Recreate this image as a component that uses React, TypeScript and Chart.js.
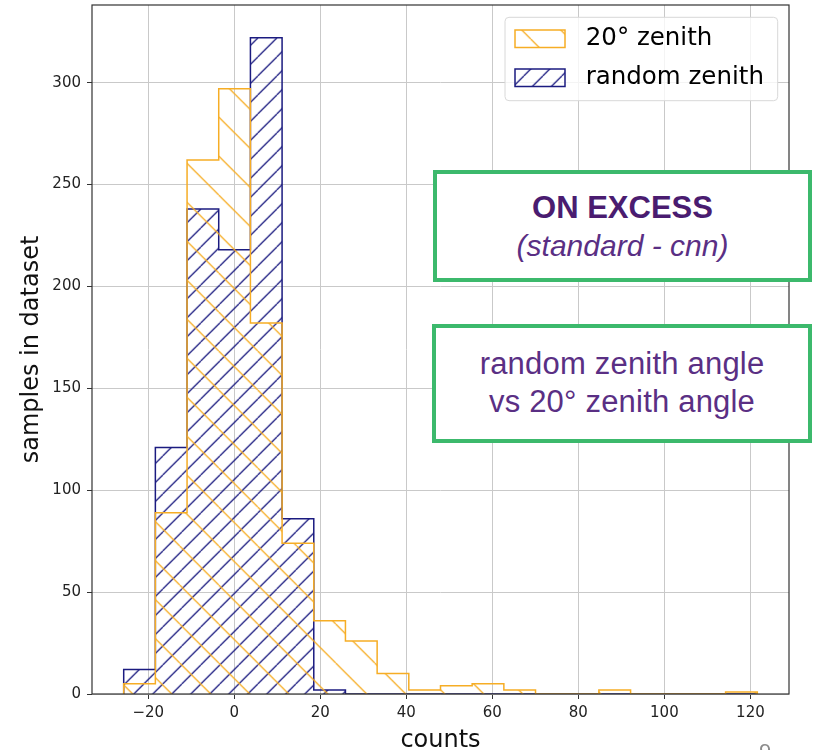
import React, { useEffect, useRef } from 'react';
import { Chart, registerables } from 'chart.js';

Chart.register(...registerables);

// ---- data ----
const BIN_EDGES = [
  -25.7, -18.34, -10.97, -3.61, 3.76, 11.12, 18.49, 25.85, 33.22, 40.58, 47.95,
  55.31, 62.68, 70.04, 77.41, 84.77, 92.14, 99.5, 106.87, 114.23, 121.6,
];
const ZENITH_20_COUNTS = [5, 89, 262, 297, 182, 74, 36, 26, 10, 2, 4, 5, 2, 0, 0, 2, 0, 0, 0, 1];
const RANDOM_ZENITH_COUNTS = [12, 121, 238, 218, 322, 86, 2, 0, 0, 0, 0, 0, 0, 0, 0, 0, 0, 0, 0, 0];
const SERIES_LABELS = ['20° zenith', 'random zenith'];
const X_TICKS = [-20, 0, 20, 40, 60, 80, 100, 120];
const Y_TICKS = [0, 50, 100, 150, 200, 250, 300];
const X_RANGE = [-33.07, 128.97];
const Y_RANGE = [0, 338.1];
const X_TITLE = 'counts';
const Y_TITLE = 'samples in dataset';

const ORANGE = '#f6ad25';
const NAVY = '#1b1b80';

function stepOutline(edges: number[], counts: number[]) {
  const pts: { x: number; y: number }[] = [{ x: edges[0], y: 0 }];
  counts.forEach((c, i) => pts.push({ x: edges[i], y: c }));
  pts.push({ x: edges[edges.length - 1], y: 0 });
  return pts;
}

function makeHatch(color: string, size: number, dir: 'back' | 'fwd', dx: number) {
  const c = document.createElement('canvas');
  c.width = size;
  c.height = size;
  const g = c.getContext('2d')!;
  g.strokeStyle = color;
  g.lineWidth = 1.3;
  g.beginPath();
  for (const x0 of [-size, 0, size]) {
    if (dir === 'back') {
      g.moveTo(x0, 0);
      g.lineTo(x0 + size, size);
    } else {
      g.moveTo(x0, size);
      g.lineTo(x0 + size, 0);
    }
  }
  g.stroke();
  const p = g.createPattern(c, 'repeat')!;
  try {
    p.setTransform(new DOMMatrix([1, 0, 0, 1, dx, 0]));
  } catch (e) {
    /* ignore */
  }
  return p;
}

const fmtTick = (v: number) => (v < 0 ? '\u2212' + Math.abs(v) : String(v));

const framePlugin = {
  id: 'axesFrame',
  afterDatasetsDraw(chart: any) {
    const { ctx, chartArea: a } = chart;
    ctx.save();
    ctx.strokeStyle = '#333';
    ctx.lineWidth = 1.2;
    ctx.strokeRect(a.left, a.top, a.right - a.left, a.bottom - a.top);
    ctx.restore();
  },
};

const legendPlugin = {
  id: 'boxedLegend',
  afterDraw(chart: any) {
    const { ctx, chartArea } = chart;
    const w = 272.7;
    const h = 83.4;
    const x = chartArea.right - 11.3 - w;
    const y = chartArea.top + 12.3;
    const r = 4;
    ctx.save();
    ctx.beginPath();
    ctx.moveTo(x + r, y);
    ctx.lineTo(x + w - r, y);
    ctx.quadraticCurveTo(x + w, y, x + w, y + r);
    ctx.lineTo(x + w, y + h - r);
    ctx.quadraticCurveTo(x + w, y + h, x + w - r, y + h);
    ctx.lineTo(x + r, y + h);
    ctx.quadraticCurveTo(x, y + h, x, y + h - r);
    ctx.lineTo(x, y + r);
    ctx.quadraticCurveTo(x, y, x + r, y);
    ctx.closePath();
    ctx.fillStyle = 'rgba(255,255,255,0.8)';
    ctx.fill();
    ctx.strokeStyle = '#d8d8d8';
    ctx.lineWidth = 1;
    ctx.stroke();
    chart.data.datasets.forEach((ds: any, i: number) => {
      const sx = x + 10;
      const sy = y + 12.7 + i * 39;
      ctx.fillStyle = ds.backgroundColor;
      ctx.fillRect(sx, sy, 50, 17.5);
      ctx.strokeStyle = ds.borderColor;
      ctx.lineWidth = 1.5;
      ctx.strokeRect(sx, sy, 50, 17.5);
      ctx.fillStyle = '#000';
      ctx.font = '24.5px "DejaVu Sans"';
      ctx.textBaseline = 'middle';
      ctx.textAlign = 'left';
      ctx.fillText(ds.label, x + 80.7, sy + 9);
    });
    ctx.restore();
  },
};

export default function App() {
  const ref = useRef<HTMLCanvasElement | null>(null);

  useEffect(() => {
    document.body.style.margin = '0';
    const canvas = ref.current!;
    const orangeHatch = makeHatch(ORANGE, 39, 'back', 23.7);
    const navyHatch = makeHatch(NAVY, 19, 'fwd', 10.7);
    const tickFont = { family: 'DejaVu Sans', size: 15 };
    const chart = new Chart(canvas, {
      type: 'line',
      data: {
        datasets: [
          {
            label: SERIES_LABELS[0],
            data: stepOutline(BIN_EDGES, ZENITH_20_COUNTS),
            borderColor: ORANGE,
            backgroundColor: orangeHatch,
            borderWidth: 1.5,
            stepped: true,
            fill: 'origin',
            pointRadius: 0,
          },
          {
            label: SERIES_LABELS[1],
            data: stepOutline(BIN_EDGES, RANDOM_ZENITH_COUNTS),
            borderColor: NAVY,
            backgroundColor: navyHatch,
            borderWidth: 1.5,
            stepped: true,
            fill: 'origin',
            pointRadius: 0,
          },
        ],
      },
      options: {
        animation: false,
        responsive: false,
        maintainAspectRatio: false,
        layout: { padding: { left: 0, right: 24, top: 5, bottom: 0 } },
        plugins: {
          legend: { display: false },
          tooltip: { enabled: false },
        },
        scales: {
          x: {
            type: 'linear',
            min: X_RANGE[0],
            max: X_RANGE[1],
            afterBuildTicks: (s: any) => {
              s.ticks = X_TICKS.map((v) => ({ value: v }));
            },
            afterFit: (s: any) => {
              s.height = 56;
              s.paddingLeft = 0;
              s.paddingRight = 0;
            },
            grid: { color: '#c9c9c9', lineWidth: 1, tickColor: '#333', tickLength: 5, tickWidth: 1 },
            border: { display: false },
            ticks: {
              font: tickFont,
              color: '#222',
              padding: 5,
              maxRotation: 0,
              autoSkip: false,
              callback: (v: any) => fmtTick(Number(v)),
            },
            title: {
              display: true,
              text: X_TITLE,
              color: '#111',
              font: { family: 'DejaVu Sans', size: 24, lineHeight: 0.8 },
              padding: 0,
            },
          },
          y: {
            type: 'linear',
            min: Y_RANGE[0],
            max: Y_RANGE[1],
            afterBuildTicks: (s: any) => {
              s.ticks = Y_TICKS.map((v) => ({ value: v }));
            },
            afterFit: (s: any) => {
              s.width = 92;
              s.paddingTop = 0;
              s.paddingBottom = 0;
            },
            grid: { color: '#c9c9c9', lineWidth: 1, tickColor: '#333', tickLength: 5, tickWidth: 1 },
            border: { display: false },
            ticks: {
              font: tickFont,
              color: '#222',
              padding: 6,
              autoSkip: false,
              callback: (v: any) => fmtTick(Number(v)),
            },
            title: {
              display: true,
              text: Y_TITLE,
              color: '#111',
              font: { family: 'DejaVu Sans', size: 24 },
              padding: { top: 17, bottom: 0 },
            },
          },
        },
      } as any,
      plugins: [framePlugin, legendPlugin],
    });
    return () => chart.destroy();
  }, []);

  const purpleDark = '#4a1c70';
  const purple = '#5a2f84';
  const green = '#3cb96c';
  const line = (text: string, baseline: number, size: number, extra: React.CSSProperties) => (
    <div
      style={{
        position: 'absolute',
        left: 0,
        right: 0,
        top: baseline - 0.8465 * size,
        fontSize: size,
        lineHeight: `${size}px`,
        textAlign: 'center',
        fontFamily: '"Liberation Sans", Arial, sans-serif',
        whiteSpace: 'nowrap',
        ...extra,
      }}
    >
      {text}
    </div>
  );

  return (
    <div style={{ position: 'relative', width: 813, height: 750, overflow: 'hidden', background: '#fff' }}>
      <canvas ref={ref} width={813} height={750} style={{ display: 'block' }} />
      <div
        style={{
          position: 'absolute',
          left: 433,
          top: 170,
          width: 379,
          height: 112,
          boxSizing: 'border-box',
          border: `4px solid ${green}`,
          background: '#fff',
        }}
      >
        {line('ON EXCESS', 218.3 - 174, 31, { fontWeight: 'bold', color: purpleDark })}
        {line('(standard - cnn)', 256 - 174, 30, { fontStyle: 'italic', color: purple })}
      </div>
      <div
        style={{
          position: 'absolute',
          left: 432,
          top: 324,
          width: 380,
          height: 119,
          boxSizing: 'border-box',
          border: `4px solid ${green}`,
          background: '#fff',
        }}
      >
        {line('random zenith angle', 374 - 328, 31, { color: purple, letterSpacing: 0.2 })}
        {line('vs 20° zenith angle', 412 - 328, 31, { color: purple, letterSpacing: 0.2 })}
      </div>
      <div
        style={{
          position: 'absolute',
          left: 759,
          top: 760 - 0.8465 * 22,
          fontSize: 22,
          lineHeight: '22px',
          color: '#8c8c8c',
          fontFamily: '"Liberation Sans", Arial, sans-serif',
        }}
      >
        9
      </div>
    </div>
  );
}
